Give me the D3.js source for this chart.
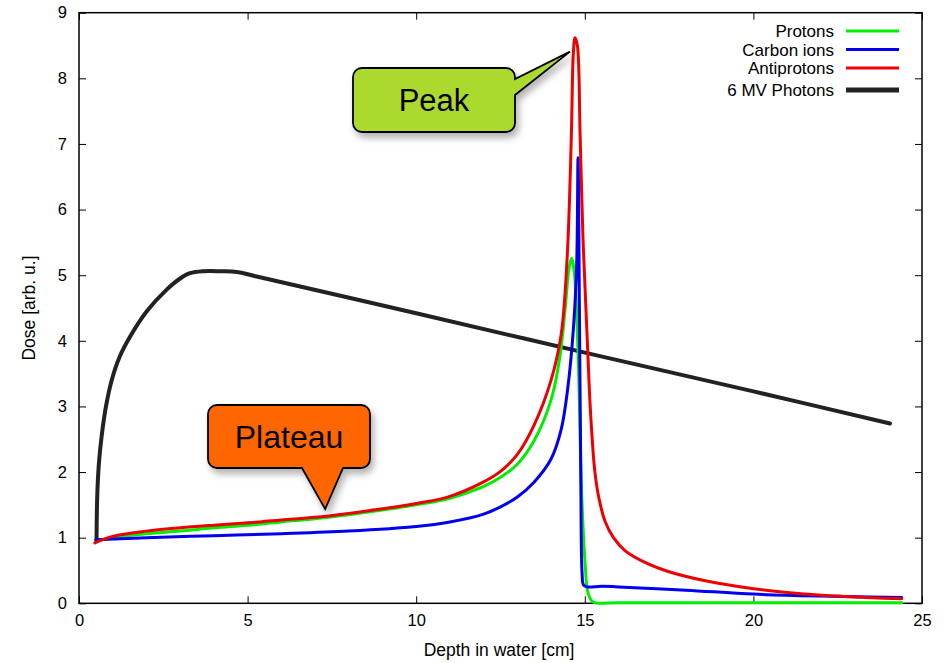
<!DOCTYPE html>
<html>
<head>
<meta charset="utf-8">
<script src="https://cdn.jsdelivr.net/npm/d3@7"></script>
<style>
  body { margin: 0; background: #fff; }
  svg { display: block; }
</style>
</head>
<body>
<script>
// depth-dose curves
const photonDepth = [0.52, 0.54, 0.59, 0.67, 0.8, 0.97, 1.2, 1.5, 2.01, 2.6, 3.0, 3.29, 3.69, 4.2, 4.68, 5.27, 10, 15, 20, 24.05];
const photonDose  = [0.96, 1.62, 2.13, 2.54, 3.0, 3.40, 3.75, 4.05, 4.45, 4.78, 4.95, 5.03, 5.06, 5.06, 5.05, 4.98, 4.42, 3.82, 3.23, 2.74];

const protonDepth = [0.5, 1, 2, 3, 4, 5, 6, 7, 8, 9, 10, 11, 12, 12.5, 13, 13.5, 14, 14.25, 14.42, 14.53, 14.61, 14.66, 14.71, 14.81, 14.91, 15.01, 15.1, 15.25, 16, 20, 24.4];
const protonDose  = [0.95, 1.0, 1.06, 1.1, 1.15, 1.19, 1.24, 1.29, 1.35, 1.42, 1.5, 1.6, 1.78, 1.92, 2.12, 2.48, 3.1, 3.72, 4.5, 5.1, 5.26, 5.15, 4.93, 3.66, 1.63, 0.61, 0.15, 0.02, 0.01, 0.01, 0.01];

const carbonDepth = [0.5, 2, 4, 6, 8, 10, 11, 12, 12.5, 13, 13.5, 14, 14.3, 14.5, 14.66, 14.76, 14.8, 14.84, 14.88, 14.92, 14.96, 15.06, 15.5, 16, 18, 20, 22, 24.4];
const carbonDose  = [0.97, 1.0, 1.03, 1.06, 1.1, 1.17, 1.24, 1.36, 1.47, 1.62, 1.85, 2.2, 2.65, 3.3, 4.17, 5.19, 6.79, 4.5, 2.0, 0.45, 0.28, 0.25, 0.26, 0.25, 0.2, 0.14, 0.11, 0.09];

const antiDepth = [0.47, 1, 2, 3, 4, 5.37, 6, 7, 8, 9, 10, 11, 12, 12.5, 13, 13.5, 14, 14.3, 14.48, 14.6, 14.66, 14.71, 14.78, 14.86, 14.95, 15.06, 15.14, 15.22, 15.3, 15.42, 15.6, 15.85, 16.2, 16.8, 17.5, 18.5, 19.5, 20.5, 21.5, 22.5, 23.5, 24.4];
const antiDose  = [0.92, 1.02, 1.1, 1.15, 1.19, 1.24, 1.27, 1.31, 1.37, 1.44, 1.52, 1.63, 1.85, 2.01, 2.27, 2.72, 3.4, 4.1, 5.3, 7.1, 8.38, 8.62, 8.5, 7.16, 5.5, 4.17, 3.2, 2.5, 2.0, 1.6, 1.25, 1.0, 0.8, 0.62, 0.48, 0.35, 0.26, 0.19, 0.14, 0.11, 0.085, 0.07];

const seriesNames = ['Protons', 'Carbon ions', 'Antiprotons', '6 MV Photons'];
const seriesColors = ['#00ee00', '#0000ee', '#ee0000', '#222222'];

const xTicks = [0, 5, 10, 15, 20, 25];
const yTicks = [0, 1, 2, 3, 4, 5, 6, 7, 8, 9];

// layout
const width = 946, height = 663;
const pltLeft = 79, pltRight = 922, pltTop = 12.7, pltBottom = 603.3;
const tickLen = 7;
const font = '"Liberation Sans", Arial, sans-serif';

const svg = d3.select('body').append('svg')
    .attr('width', width)
    .attr('height', height);

const defs = svg.append('defs');
const shadow = defs.append('filter')
    .attr('id', 'shadow')
    .attr('x', '-20%').attr('y', '-20%')
    .attr('width', '150%').attr('height', '160%');
shadow.append('feDropShadow')
    .attr('dx', 3).attr('dy', 5)
    .attr('stdDeviation', 3.5)
    .attr('flood-color', '#000')
    .attr('flood-opacity', 0.3);

const x = d3.scaleLinear().domain([0, 25]).range([pltLeft, pltRight]);
const y = d3.scaleLinear().domain([0, 9]).range([pltBottom, pltTop]);

// frame and inward ticks on all four sides
const axes = svg.append('g');
axes.append('g')
    .attr('transform', `translate(0,${pltBottom})`)
    .call(d3.axisBottom(x).tickValues(xTicks).tickSize(-tickLen).tickPadding(11).tickFormat(d3.format('d')));
axes.append('g')
    .attr('transform', `translate(0,${pltTop})`)
    .call(d3.axisTop(x).tickValues(xTicks).tickSize(-tickLen).tickFormat(''));
axes.append('g')
    .attr('transform', `translate(${pltLeft},0)`)
    .call(d3.axisLeft(y).tickValues(yTicks).tickSize(-tickLen).tickPadding(12).tickFormat(d3.format('d')));
axes.append('g')
    .attr('transform', `translate(${pltRight},0)`)
    .call(d3.axisRight(y).tickValues(yTicks).tickSize(-tickLen).tickFormat(''));

axes.selectAll('.domain').remove();
axes.selectAll('.tick line').attr('stroke', '#000').attr('stroke-width', 1);
axes.selectAll('.tick text')
    .attr('font-family', font)
    .attr('font-size', 16.5)
    .attr('fill', '#000');

svg.append('rect')
    .attr('x', pltLeft).attr('y', pltTop)
    .attr('width', pltRight - pltLeft).attr('height', pltBottom - pltTop)
    .attr('fill', 'none')
    .attr('stroke', '#000')
    .attr('stroke-width', 1.5);

// axis titles
svg.append('text')
    .attr('x', 499)
    .attr('y', 656)
    .attr('text-anchor', 'middle')
    .attr('font-family', font)
    .attr('font-size', 17.5)
    .text('Depth in water [cm]');

svg.append('text')
    .attr('transform', `translate(35,${(pltTop + pltBottom) / 2}) rotate(-90)`)
    .attr('text-anchor', 'middle')
    .attr('font-family', font)
    .attr('font-size', 17.5)
    .text('Dose [arb. u.]');

// curves
const line = d3.line()
    .x(d => x(d[0]))
    .y(d => y(d[1]))
    .curve(d3.curveCatmullRom.alpha(0.5));

const curves = [
    [protonDepth, protonDose, 3],
    [carbonDepth, carbonDose, 3],
    [antiDepth, antiDose, 3],
    [photonDepth, photonDose, 4]
];

// draw photons first, then green, blue, red on top
[3, 0, 1, 2].forEach(i => {
    const c = curves[i];
    svg.append('path')
        .datum(d3.zip(c[0], c[1]))
        .attr('fill', 'none')
        .attr('stroke', seriesColors[i])
        .attr('stroke-width', c[2])
        .attr('stroke-linejoin', 'round')
        .attr('stroke-linecap', 'round')
        .attr('d', line);
});

// legend
const legend = svg.append('g');
const legendY = [31, 49.5, 68, 90];
seriesNames.forEach((name, i) => {
    legend.append('text')
        .attr('x', 834)
        .attr('y', legendY[i] + 6)
        .attr('text-anchor', 'end')
        .attr('font-family', font)
        .attr('font-size', 17)
        .text(name);
    legend.append('line')
        .attr('x1', 846).attr('x2', 899)
        .attr('y1', legendY[i]).attr('y2', legendY[i])
        .attr('stroke', seriesColors[i])
        .attr('stroke-width', i === 3 ? 5 : 3);
});

// callouts
function callout(bx, by, bw, bh, r, tail, fill, label, size) {
    const p = d3.path();
    p.moveTo(bx + r, by);
    if (tail.side === 'right') {
        p.lineTo(bx + bw - r, by);
        p.arcTo(bx + bw, by, bx + bw, by + r, r);
        p.lineTo(bx + bw, tail.a);
        p.lineTo(tail.tx, tail.ty);
        p.lineTo(bx + bw, tail.b);
        p.lineTo(bx + bw, by + bh - r);
        p.arcTo(bx + bw, by + bh, bx + bw - r, by + bh, r);
        p.lineTo(bx + r, by + bh);
    } else {
        p.lineTo(bx + bw - r, by);
        p.arcTo(bx + bw, by, bx + bw, by + r, r);
        p.lineTo(bx + bw, by + bh - r);
        p.arcTo(bx + bw, by + bh, bx + bw - r, by + bh, r);
        p.lineTo(tail.b, by + bh);
        p.lineTo(tail.tx, tail.ty);
        p.lineTo(tail.a, by + bh);
        p.lineTo(bx + r, by + bh);
    }
    p.arcTo(bx, by + bh, bx, by + bh - r, r);
    p.lineTo(bx, by + r);
    p.arcTo(bx, by, bx + r, by, r);
    p.closePath();

    const g = svg.append('g');
    g.append('path')
        .attr('d', p.toString())
        .attr('fill', fill)
        .attr('stroke', '#000')
        .attr('stroke-width', 1.8)
        .attr('stroke-linejoin', 'miter')
        .attr('filter', 'url(#shadow)');
    g.append('text')
        .attr('x', bx + bw / 2)
        .attr('y', by + bh / 2 + size * 0.36)
        .attr('text-anchor', 'middle')
        .attr('font-family', font)
        .attr('font-size', size)
        .attr('fill', '#000')
        .text(label);
}

callout(353, 68, 162, 64, 9,
    {side: 'right', a: 79, b: 95, tx: x(14.65) - 3, ty: y(8.62) + 14},
    '#acd92f', 'Peak', 31);

callout(208, 405, 162, 63, 9,
    {side: 'bottom', a: 302, b: 343, tx: x(7.3), ty: y(1.39) - 3},
    '#ff6600', 'Plateau', 32);
</script>
</body>
</html>
